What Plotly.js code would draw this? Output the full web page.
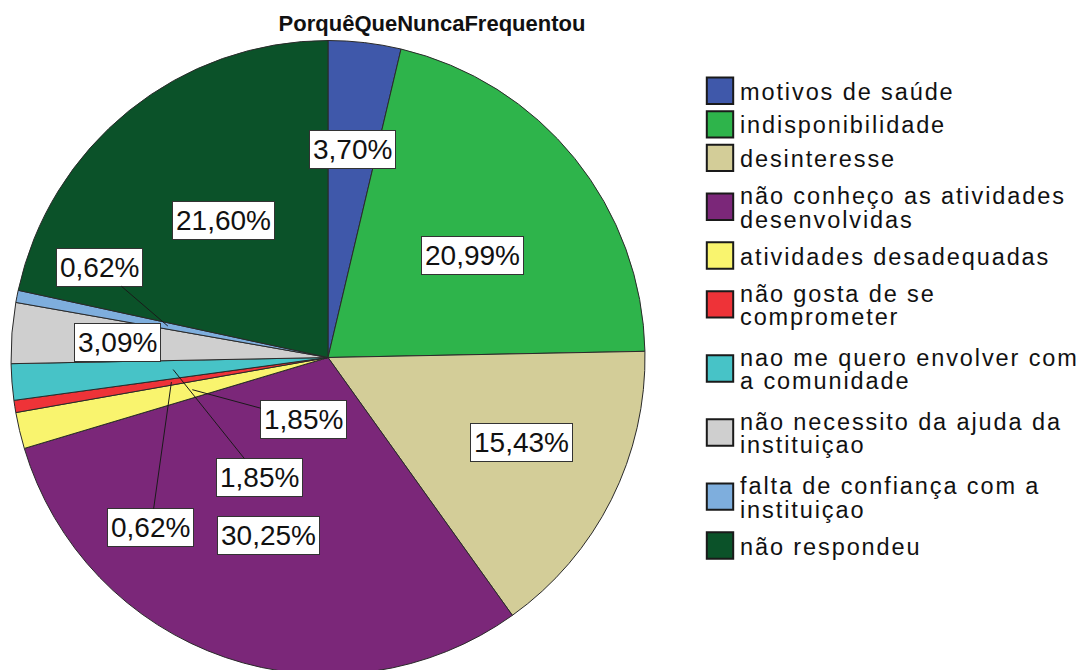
<!DOCTYPE html>
<html>
<head>
<meta charset="utf-8">
<script src="https://cdn.plot.ly/plotly-3.0.1.min.js"></script>
<style>
  html, body { margin: 0; padding: 0; overflow: hidden; background: #fff; }
  #chart { width: 1089px; height: 680px; }
  .legend path.legendpie {
    transform: translate(20px, 0px) scale(2.2);
    vector-effect: non-scaling-stroke;
    stroke-width: 2px !important;
    stroke: #1a1a1a !important;
  }
  .legend .legendtext { letter-spacing: 1.9px; }
  .legend .scrollbox, .legend { clip-path: none !important; }
</style>
</head>
<body>
<div id="chart"></div>
<script>
// ---- data ----
const chartTitle = 'PorquêQueNuncaFrequentou';
const categories = [
  'motivos de saúde',
  'indisponibilidade',
  'desinteresse',
  'não conheço as atividades<br>desenvolvidas',
  'atividades desadequadas',
  'não gosta de se<br>comprometer',
  'nao me quero envolver com<br>a comunidade',
  'não necessito da ajuda da<br>instituiçao',
  'falta de confiança com a<br>instituiçao',
  'não respondeu'
];
const percentages = [3.70, 20.99, 15.43, 30.25, 1.85, 0.62, 1.85, 3.09, 0.62, 21.60];
const sliceColors = ['#3F58AA', '#2EB44B', '#D3CD98', '#7B2779', '#F9F46E',
                     '#EE3338', '#47C3C7', '#CFCFCF', '#7EAEDD', '#0B5229'];

// ---- label placement (style): angle nudge (deg), label radius (fraction of R), leader tip radius ----
const labelAngleNudge = [0, 3.6, -3.1, -0.4, -55.5, -35, -55.9, -0.5, 10.4, 1.5];
const labelRadius     = [0.662, 0.557, 0.667, 0.592, 0.211, 0.775, 0.436, 0.666, 0.776, 0.544];
const leaderTip       = [null, null, null, null, 0.44, 0.5, 0.49, null, 0.515, null];

// ---- geometry ----
const W = 1089, H = 680;
const cx = 328, cy = 357.5, R = 317;

const total = percentages.reduce((a, b) => a + b, 0);
const fmt = v => v.toFixed(2).replace('.', ',') + '%';

function polar(angleDeg, r) {
  const a = angleDeg * Math.PI / 180;
  return [cx + r * Math.sin(a), cy - r * Math.cos(a)];
}

const annotations = [];
let cum = 0;
percentages.forEach((v, i) => {
  const mid = (cum + v / 2) / total * 360;
  cum += v;
  const [lx, ly] = polar(mid + labelAngleNudge[i], labelRadius[i] * R);
  const base = {
    text: fmt(v),
    font: { family: '"Liberation Sans", Arial, sans-serif', size: 28, color: '#111' },
    bgcolor: '#ffffff',
    bordercolor: '#333333',
    borderwidth: 1,
    borderpad: 3,
    xref: 'paper', yref: 'paper'
  };
  if (leaderTip[i] === null) {
    annotations.push(Object.assign(base, {
      x: lx / W, y: 1 - ly / H, xanchor: 'center', yanchor: 'middle', showarrow: false
    }));
  } else {
    const [tx, ty] = polar(mid, leaderTip[i] * R);
    annotations.push(Object.assign(base, {
      x: tx / W, y: 1 - ty / H,
      ax: lx - tx, ay: ly - ty,
      showarrow: true, arrowhead: 0, arrowwidth: 1, arrowcolor: '#1a1a1a', standoff: 0
    }));
  }
});

const trace = {
  type: 'pie',
  labels: categories,
  values: percentages,
  sort: false,
  direction: 'clockwise',
  rotation: 0,
  textinfo: 'none',
  hoverinfo: 'label+percent',
  marker: { colors: sliceColors, line: { color: '#2a2a2a', width: 1 } },
  domain: { x: [(cx - R) / W, (cx + R) / W], y: [1 - (cy + R) / H, 1 - (cy - R) / H] }
};

const layout = {
  width: W, height: H,
  margin: { l: 0, r: 0, t: 0, b: 0 },
  paper_bgcolor: '#ffffff',
  title: {
    text: '<b>' + chartTitle + '</b>',
    font: { family: '"Liberation Sans", Arial, sans-serif', size: 22, color: '#111' },
    x: 432 / W, xanchor: 'center', xref: 'paper',
    y: 1 - 23 / H, yanchor: 'middle', yref: 'paper'
  },
  showlegend: true,
  legend: {
    x: 700 / W, xanchor: 'left',
    y: 1 - 69 / H, yanchor: 'top',
    font: { family: '"Liberation Sans", Arial, sans-serif', size: 23.5, color: '#111' },
    bgcolor: 'rgba(0,0,0,0)',
    borderwidth: 0,
    tracegroupgap: 0
  },
  annotations: annotations
};

Plotly.newPlot('chart', [trace], layout, { displayModeBar: false, staticPlot: true }).then(gd => {
  // tighten line spacing of wrapped legend entries (reference uses ~1.0em)
  gd.querySelectorAll('.legend text.legendtext').forEach(t => {
    const lines = t.querySelectorAll('tspan.line');
    const n = lines.length;
    if (n < 2) return;
    lines.forEach(sp => {
      const dy = sp.getAttribute('dy');
      if (!dy || !/em$/.test(dy)) return;
      const v = parseFloat(dy);
      sp.setAttribute('dy', (v / 1.3 + 0.15 * (n - 1)) + 'em');
    });
  });
});
</script>
</body>
</html>
